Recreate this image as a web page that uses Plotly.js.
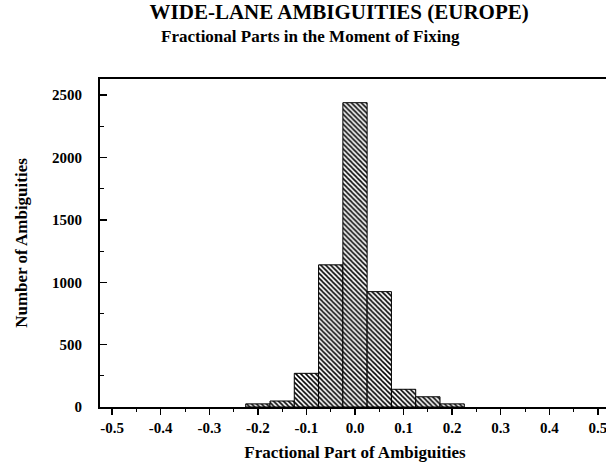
<!DOCTYPE html>
<html>
<head>
<meta charset="utf-8">
<script src="https://cdn.plot.ly/plotly-3.0.1.min.js"></script>
<style>
  html, body { margin: 0; padding: 0; background: #fff; overflow: hidden; }
  #chart { width: 610px; height: 464px; }
</style>
</head>
<body>
<div id="chart"></div>
<script>
// Histogram of fractional parts at the moment of fixing (bin width 0.05)
const binCenters = [-0.20, -0.15, -0.10, -0.05, 0.00, 0.05, 0.10, 0.15, 0.20];
const counts     = [25, 48, 270, 1140, 2440, 925, 142, 82, 25];

const xTickVals  = [-0.5, -0.4, -0.3, -0.2, -0.1, 0.0, 0.1, 0.2, 0.3, 0.4, 0.5];
const xTickText  = ['-0.5', '-0.4', '-0.3', '-0.2', '-0.1', '0.0', '0.1', '0.2', '0.3', '0.4', '0.5'];
const yTickVals  = [0, 500, 1000, 1500, 2000, 2500];

const serif = 'Liberation Serif, Times New Roman, serif';
const tickFont = { family: serif, size: 15, color: '#000', weight: 'bold' };

const trace = {
  type: 'bar',
  x: binCenters,
  y: counts,
  width: 0.05,
  marker: {
    color: '#fff',
    line: { color: '#000', width: 1 },
    pattern: { shape: '\\', fgcolor: '#000', bgcolor: '#fff', size: 3.5, solidity: 0.45 }
  },
  hoverinfo: 'x+y'
};

const layout = {
  width: 610,
  height: 464,
  margin: { l: 100, r: 0, t: 79, b: 57 },
  paper_bgcolor: '#fff',
  plot_bgcolor: '#fff',
  showlegend: false,
  bargap: 0,
  title: {
    text: 'WIDE-LANE AMBIGUITIES (EUROPE)',
    x: 0.469, xanchor: 'center', xref: 'paper',
    y: 0.974, yanchor: 'middle', yref: 'container',
    font: { family: serif, size: 21, color: '#000', weight: 'bold' }
  },
  annotations: [{
    text: 'Fractional Parts in the Moment of Fixing',
    xref: 'paper', yref: 'paper',
    x: 0.412, y: 1.0, yshift: 43,
    xanchor: 'center', yanchor: 'middle',
    showarrow: false,
    font: { family: serif, size: 17, color: '#000', weight: 'bold' }
  }],
  xaxis: {
    range: [-0.525, 0.525],
    tickmode: 'array',
    tickvals: xTickVals,
    ticktext: xTickText,
    ticks: 'outside', ticklen: 6, tickwidth: 1.5, tickcolor: '#000',
    minor: { dtick: 0.05, tick0: 0, ticks: 'outside', ticklen: 3, tickwidth: 1, tickcolor: '#000' },
    showline: true, linewidth: 2, linecolor: '#000', mirror: true,
    showgrid: false, zeroline: false,
    tickfont: tickFont,
    title: { text: 'Fractional Part of Ambiguities', standoff: 11,
             font: { family: serif, size: 17, color: '#000', weight: 'bold' } }
  },
  yaxis: {
    range: [0, 2630],
    tickmode: 'array',
    tickvals: yTickVals,
    ticks: 'inside', ticklen: 7, tickwidth: 1.5, tickcolor: '#000',
    minor: { dtick: 250, tick0: 0, ticks: 'inside', ticklen: 4, tickwidth: 1, tickcolor: '#000' },
    showline: true, linewidth: 2, linecolor: '#000', mirror: true,
    showgrid: false, zeroline: false,
    ticklabelstandoff: 13,
    tickfont: tickFont,
    title: { text: 'Number of Ambiguities', standoff: 20,
             font: { family: serif, size: 17, color: '#000', weight: 'bold' } }
  }
};

Plotly.newPlot('chart', [trace], layout, { displayModeBar: false, staticPlot: true });
</script>
</body>
</html>
